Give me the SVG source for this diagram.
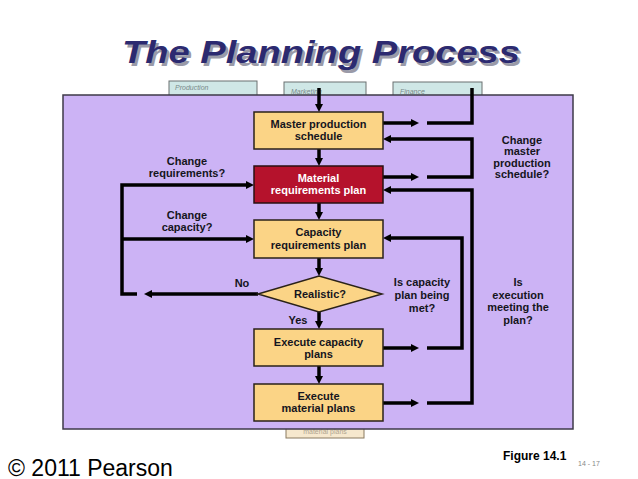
<svg xmlns="http://www.w3.org/2000/svg" width="638" height="479" viewBox="0 0 638 479">
<style>
.t{font-family:"Liberation Sans",Arial,sans-serif;font-weight:bold;font-size:11px;fill:#151520;text-anchor:middle}
.w{fill:#ffffff}
.box{fill:#FBD486;stroke:#2a2218;stroke-width:1.5}
.red{fill:#B5122C;stroke:#2a1010;stroke-width:1.5}
.tab{fill:#CFE7E6;stroke:#6a7070;stroke-width:1}
.tabt{font-family:"Liberation Sans",Arial,sans-serif;font-style:italic;font-size:7px;fill:#7a8a8a}
.c{fill:none;stroke:#000;stroke-width:3.5;stroke-linejoin:miter}
.ttl{font-family:"Liberation Sans",Arial,sans-serif;font-weight:bold;font-style:italic;font-size:31px}
</style>
<defs>
<marker id="ah" viewBox="0 0 10 10" refX="3" refY="5" markerWidth="8" markerHeight="8" markerUnits="userSpaceOnUse" orient="auto">
<path d="M0,0 L10,5 L0,10 z" fill="#000"/>
</marker>
</defs>
<rect width="638" height="479" fill="#fff"/>
<g id="title">
<text class="ttl" x="124.5" y="65.5" fill="#9a9aa8" textLength="398" lengthAdjust="spacingAndGlyphs">The Planning Process</text>
<text class="ttl" x="122" y="63" fill="#2C2A70" textLength="398" lengthAdjust="spacingAndGlyphs">The Planning Process</text>
</g>
<g id="tabs">
<rect class="tab" x="169" y="81" width="88" height="20"/>
<text class="tabt" x="175" y="90">Production</text>
<rect class="tab" x="284" y="82" width="82" height="20"/>
<text class="tabt" x="291" y="94">Marketing</text>
<rect class="tab" x="393" y="82" width="89" height="20"/>
<text class="tabt" x="400" y="94">Finance</text>
<rect x="286" y="420" width="78" height="18" fill="#F6E8CE" stroke="#8a7a60" stroke-width="1"/>
<text x="325" y="434" font-family="Liberation Sans,Arial,sans-serif" font-size="7" fill="#b0a590" text-anchor="middle">material plans</text>
</g>
<rect id="panel" x="63" y="95" width="510" height="334" fill="#CCB3F5" stroke="#3e3a48" stroke-width="1.5"/>
<g id="connectors">
<line class="c" x1="319" y1="88" x2="319" y2="106.4" marker-end="url(#ah)"/>
<line class="c" x1="319" y1="149" x2="319" y2="160.4" marker-end="url(#ah)"/>
<line class="c" x1="319" y1="203" x2="319" y2="214.4" marker-end="url(#ah)"/>
<line class="c" x1="319" y1="258" x2="319" y2="270.4" marker-end="url(#ah)"/>
<line class="c" x1="319" y1="312" x2="319" y2="323.4" marker-end="url(#ah)"/>
<line class="c" x1="319" y1="366" x2="319" y2="378.4" marker-end="url(#ah)"/>
<line class="c" x1="258" y1="294" x2="149.6" y2="294" marker-end="url(#ah)"/>
<polyline class="c" points="137,294 122,294 122,185 248.4,185" marker-end="url(#ah)"/>
<line class="c" x1="122" y1="239" x2="248.4" y2="239" marker-end="url(#ah)"/>
<line class="c" x1="383" y1="123" x2="413.4" y2="123" marker-end="url(#ah)"/>
<polyline class="c" points="427,123 472,123 472,88"/>
<polyline class="c" points="427,177 472,177 472,139 388.6,139" marker-end="url(#ah)"/>
<line class="c" x1="383" y1="177" x2="413.4" y2="177" marker-end="url(#ah)"/>
<polyline class="c" points="427,403 472,403 472,190 388.6,190" marker-end="url(#ah)"/>
<line class="c" x1="383" y1="403" x2="413.4" y2="403" marker-end="url(#ah)"/>
<polyline class="c" points="427,348 462,348 462,238 388.6,238" marker-end="url(#ah)"/>
<line class="c" x1="383" y1="348" x2="413.4" y2="348" marker-end="url(#ah)"/>
</g>
<g id="mps">
<rect class="box" x="254" y="112" width="129" height="37"/>
<text class="t" x="318.5" y="128">Master production</text>
<text class="t" x="318.5" y="140">schedule</text>
</g>
<g id="mrp">
<rect class="red" x="254" y="166" width="129" height="37"/>
<text class="t w" x="318.5" y="182">Material</text>
<text class="t w" x="318.5" y="194">requirements plan</text>
</g>
<g id="crp">
<rect class="box" x="254" y="220" width="129" height="38"/>
<text class="t" x="318.5" y="236">Capacity</text>
<text class="t" x="318.5" y="249">requirements plan</text>
</g>
<g id="realistic">
<polygon points="258,294 319,276 382,294 319,312" fill="#FBD486" stroke="#2a2218" stroke-width="1.5"/>
<text class="t" x="320" y="298">Realistic?</text>
</g>
<g id="execcap">
<rect class="box" x="254" y="329" width="129" height="37"/>
<text class="t" x="318.5" y="346">Execute capacity</text>
<text class="t" x="318.5" y="358">plans</text>
</g>
<g id="execmat">
<rect class="box" x="254" y="384" width="129" height="37"/>
<text class="t" x="318.5" y="400">Execute</text>
<text class="t" x="318.5" y="412">material plans</text>
</g>
<g id="labels">
<text class="t" x="187" y="165">Change</text>
<text class="t" x="187" y="177">requirements?</text>
<text class="t" x="187" y="219">Change</text>
<text class="t" x="187" y="231">capacity?</text>
<text class="t" x="242" y="287">No</text>
<text class="t" x="298" y="324">Yes</text>
<text class="t" x="422" y="286">Is capacity</text>
<text class="t" x="422" y="299">plan being</text>
<text class="t" x="422" y="312">met?</text>
<text class="t" x="518" y="286">Is</text>
<text class="t" x="518" y="299">execution</text>
<text class="t" x="518" y="311">meeting the</text>
<text class="t" x="518" y="324">plan?</text>
<text class="t" x="522" y="144">Change</text>
<text class="t" x="522" y="155">master</text>
<text class="t" x="522" y="167">production</text>
<text class="t" x="522" y="178">schedule?</text>
</g>
<g id="footer">
<text x="503" y="460" font-family="Liberation Sans,Arial,sans-serif" font-weight="bold" font-size="12" fill="#000">Figure 14.1</text>
<text x="578" y="466" font-family="Liberation Sans,Arial,sans-serif" font-size="7" fill="#888">14 - 17</text>
<text x="8" y="476" font-family="Liberation Sans,Arial,sans-serif" font-size="23" fill="#000">© 2011 Pearson</text>
</g>
</svg>
